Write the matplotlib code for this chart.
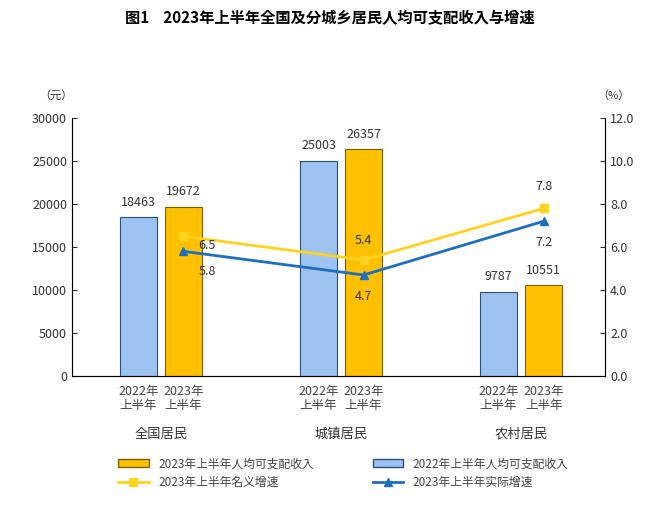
import numpy as np
import matplotlib.pyplot as plt
from matplotlib.lines import Line2D
from matplotlib.patches import Patch

plt.rcParams['font.family'] = ['Noto Sans CJK JP', 'Noto Sans CJK SC', 'Noto Sans CJK TC', 'Noto Sans CJK KR', 'DejaVu Sans']

groups = ['全国居民', '城镇居民', '农村居民']
income_2022 = [18463, 25003, 9787]
income_2023 = [19672, 26357, 10551]
growth_nominal = [6.5, 5.4, 7.8]
growth_real = [5.8, 4.7, 7.2]

blue_fill = '#9DC3F0'
blue_edge = '#2F4F7F'
gold = '#FFC000'
gold_edge = '#7F5F00'
yellow_line = '#FFD320'
blue_line = '#1F6FC0'

fig = plt.figure(figsize=(6.6, 5.19), dpi=100)
ax = fig.add_axes([0.109, 0.2755, 0.808, 0.497])
x = np.arange(len(groups))
off, w = 0.125, 0.205

ax.bar(x - off, income_2022, w, color=blue_fill, edgecolor=blue_edge, linewidth=0.8)
ax.bar(x + off, income_2023, w, color=gold, edgecolor=gold_edge, linewidth=0.8)
for i in range(3):
    ax.text(x[i] - off, income_2022[i] + 1000, str(income_2022[i]), ha='center', va='bottom', fontsize=9, color='#333333')
    ax.text(x[i] + off, income_2023[i] + 1000, str(income_2023[i]), ha='center', va='bottom', fontsize=9, color='#333333')

ax.set_xlim(-0.494, 2.467)
ax.set_ylim(0, 30000)
ax.set_yticks(range(0, 30001, 5000))
ax.set_xticks([])
ax.tick_params(axis='y', labelsize=9, colors='#333333', direction='in')
ax.spines['top'].set_visible(False)
for s in ['left', 'bottom', 'right']:
    ax.spines[s].set_color('#555555')

ax2 = ax.twinx()
ax2.set_ylim(0, 12)
ax2.set_yticks(np.arange(0, 12.1, 2))
ax2.set_yticklabels([f'{v:.1f}' for v in np.arange(0, 12.1, 2)])
ax2.tick_params(axis='y', labelsize=9, colors='#333333', direction='in')
ax2.spines['top'].set_visible(False)
ax2.plot(x + off, growth_nominal, color=yellow_line, marker='s', markersize=6, linewidth=2)
ax2.plot(x + off, growth_real, color=blue_line, marker='^', markersize=6, linewidth=2)

nom_dy = [-0.45, 0.9, 1.0]
real_dy = [-0.95, -1.0, -1.0]
nom_dx = [0.13, 0.0, 0.0]
for i in range(3):
    ax2.text(x[i] + off + nom_dx[i], growth_nominal[i] + nom_dy[i], f'{growth_nominal[i]}', ha='center', va='center', fontsize=9, color='#333333')
    ax2.text(x[i] + off + nom_dx[i], growth_real[i] + real_dy[i], f'{growth_real[i]}', ha='center', va='center', fontsize=9, color='#333333')

for i in range(3):
    ax.text(x[i] - off, -1100, '2022年\n上半年', ha='center', va='top', fontsize=9, color='#444444', linespacing=1.1)
    ax.text(x[i] + off, -1100, '2023年\n上半年', ha='center', va='top', fontsize=9, color='#444444', linespacing=1.1)
    ax.text(x[i], -6000, groups[i], ha='center', va='top', fontsize=9.5, color='#333333')

fig.text(0.06, 0.81, '（元）', fontsize=8, color='#333333')
fig.text(0.905, 0.81, '（%）', fontsize=8, color='#333333')
fig.text(0.5, 0.955, '图1    2023年上半年全国及分城乡居民人均可支配收入与增速', ha='center', fontsize=11, fontweight='bold')

handles = [Patch(facecolor=gold, edgecolor=gold_edge), Line2D([], [], color=yellow_line, marker='s', lw=2),
           Patch(facecolor=blue_fill, edgecolor=blue_edge), Line2D([], [], color=blue_line, marker='^', lw=2)]
labels = ['2023年上半年人均可支配收入', '2023年上半年名义增速', '2022年上半年人均可支配收入', '2023年上半年实际增速']
fig.legend(handles, labels, ncol=2, loc='center', bbox_to_anchor=(0.52, 0.088), frameon=False,
           fontsize=8.5, columnspacing=5, handlelength=2.6, labelcolor='#444444')

fig.savefig('out.png')
